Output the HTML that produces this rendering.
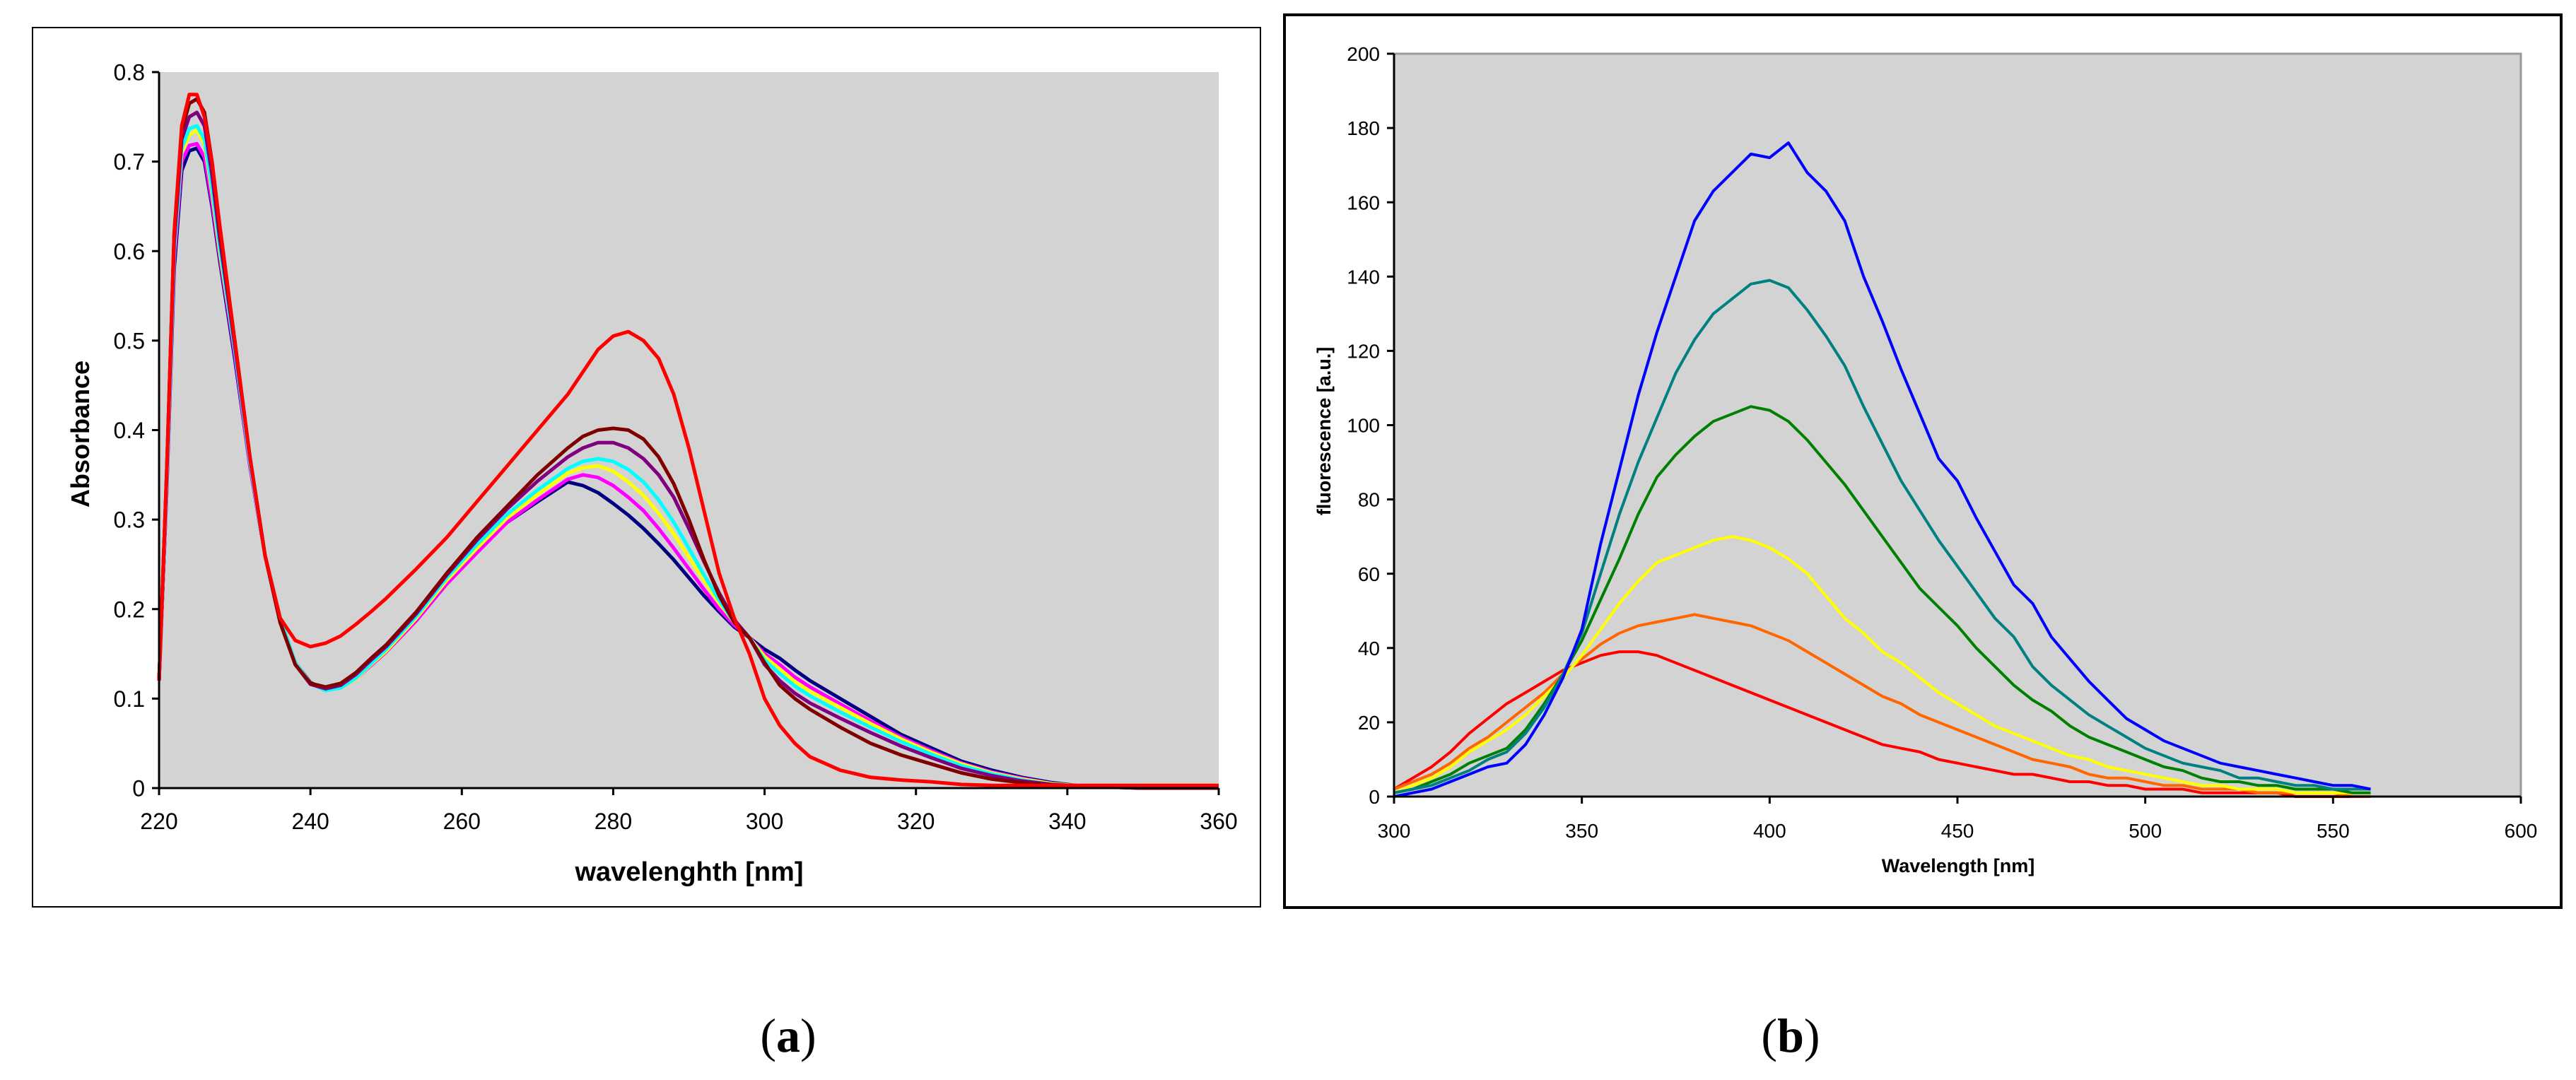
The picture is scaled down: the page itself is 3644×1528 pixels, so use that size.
<!DOCTYPE html>
<html><head><meta charset="utf-8"><style>
html,body{margin:0;padding:0;background:#fff;}
svg{display:block;font-family:"Liberation Sans",Arial,sans-serif;}
</style></head><body>
<svg id="svg" width="3644" height="1528" viewBox="0 0 3644 1528" xmlns="http://www.w3.org/2000/svg">
<rect x="46" y="39" width="1737" height="1244" fill="#fff" stroke="#000" stroke-width="2"/>
<rect x="225" y="102" width="1499" height="1013" fill="#d3d3d3"/>
<rect x="1817" y="21" width="1806" height="1263" fill="#fff" stroke="#000" stroke-width="4"/>
<rect x="1972" y="76" width="1594" height="1051" fill="#d3d3d3" stroke="#999" stroke-width="3"/>
<g id="ga"></g>
<g id="gb"></g>
<text x="268" y="1172" font-size="36" font-weight="bold" text-anchor="middle" transform="rotate(-90 0 0)"></text>
<text x="975" y="1246" font-size="38" font-weight="bold" text-anchor="middle">wavelenghth [nm]</text>
<text transform="translate(126,614) rotate(-90)" font-size="36" font-weight="bold" text-anchor="middle">Absorbance</text>
<text x="2770" y="1234" font-size="27" font-weight="bold" text-anchor="middle">Wavelength [nm]</text>
<text transform="translate(1882,610) rotate(-90)" font-size="27" font-weight="bold" text-anchor="middle">fluorescence [a.u.]</text>
<text x="1115" y="1488" font-size="68" font-family="Liberation Serif,serif" text-anchor="middle">(<tspan font-weight="bold">a</tspan>)</text>
<text x="2533" y="1488" font-size="68" font-family="Liberation Serif,serif" text-anchor="middle">(<tspan font-weight="bold">b</tspan>)</text>
</svg>
<script>
const aX=[220,221,222,223,224,225,226,227,228,230,232,234,236,238,240,242,244,246,248,250,254,258,262,266,270,274,276,278,280,282,284,286,288,290,292,294,296,298,300,302,304,306,310,314,318,322,326,330,334,338,342,350,360];
const aNavy=[0.12,0.33,0.58,0.69,0.712,0.715,0.70,0.65,0.59,0.48,0.36,0.26,0.19,0.14,0.118,0.11,0.113,0.125,0.14,0.155,0.19,0.23,0.265,0.297,0.32,0.342,0.338,0.33,0.318,0.305,0.29,0.273,0.255,0.235,0.215,0.197,0.18,0.168,0.155,0.145,0.132,0.12,0.10,0.08,0.06,0.045,0.03,0.02,0.012,0.006,0.002,0,0];
const aMagenta=[0.12,0.33,0.59,0.70,0.718,0.72,0.705,0.655,0.595,0.485,0.36,0.26,0.19,0.14,0.117,0.11,0.112,0.122,0.137,0.152,0.187,0.228,0.263,0.297,0.322,0.345,0.35,0.347,0.338,0.325,0.31,0.29,0.268,0.245,0.222,0.2,0.182,0.168,0.15,0.138,0.124,0.113,0.094,0.075,0.057,0.042,0.028,0.018,0.011,0.005,0.002,0,0];
const aYellow=[0.12,0.34,0.60,0.71,0.73,0.735,0.72,0.665,0.60,0.49,0.365,0.26,0.19,0.14,0.117,0.109,0.112,0.122,0.138,0.153,0.19,0.232,0.268,0.302,0.328,0.352,0.358,0.36,0.354,0.342,0.327,0.307,0.284,0.258,0.232,0.207,0.185,0.168,0.147,0.133,0.119,0.108,0.09,0.072,0.055,0.04,0.027,0.017,0.01,0.005,0.002,0,0];
const aCyan=[0.12,0.34,0.60,0.715,0.737,0.74,0.725,0.67,0.605,0.49,0.365,0.26,0.19,0.14,0.117,0.109,0.112,0.123,0.139,0.155,0.192,0.235,0.272,0.306,0.333,0.357,0.365,0.368,0.365,0.356,0.342,0.322,0.297,0.268,0.238,0.21,0.185,0.168,0.143,0.128,0.114,0.103,0.085,0.068,0.052,0.038,0.025,0.016,0.009,0.004,0.002,0,0];
const aPurple=[0.12,0.35,0.61,0.725,0.75,0.755,0.74,0.685,0.615,0.495,0.37,0.26,0.185,0.138,0.116,0.111,0.115,0.127,0.143,0.158,0.195,0.238,0.277,0.312,0.343,0.37,0.38,0.386,0.386,0.38,0.368,0.35,0.325,0.29,0.253,0.218,0.188,0.168,0.138,0.12,0.106,0.095,0.078,0.062,0.047,0.034,0.022,0.014,0.008,0.004,0.002,0,0];
const aDarkred=[0.12,0.35,0.62,0.735,0.765,0.77,0.755,0.70,0.625,0.50,0.37,0.26,0.185,0.138,0.117,0.113,0.117,0.129,0.145,0.16,0.197,0.24,0.28,0.315,0.35,0.38,0.393,0.4,0.402,0.4,0.39,0.37,0.34,0.30,0.255,0.215,0.185,0.168,0.14,0.115,0.10,0.088,0.068,0.05,0.037,0.027,0.017,0.01,0.006,0.003,0.002,0,0];
const aRed=[0.12,0.35,0.62,0.74,0.775,0.775,0.75,0.70,0.63,0.50,0.37,0.26,0.19,0.165,0.158,0.162,0.17,0.183,0.197,0.212,0.245,0.28,0.32,0.36,0.40,0.44,0.465,0.49,0.505,0.51,0.5,0.48,0.44,0.38,0.31,0.24,0.19,0.15,0.1,0.07,0.05,0.035,0.02,0.012,0.009,0.007,0.004,0.003,0.003,0.003,0.003,0.003,0.003];
const aXTicks=["220","240","260","280","300","320","340","360"];
const aYTicks=["0","0.1","0.2","0.3","0.4","0.5","0.6","0.7","0.8"];

const bX=[300,305,310,315,320,325,330,335,340,345,350,355,360,365,370,375,380,385,390,395,400,405,410,415,420,425,430,435,440,445,450,455,460,465,470,475,480,485,490,495,500,505,510,515,520,525,530,535,540,545,550,555,560];
const bBlue=[0,1,2,4,6,8,9,14,22,32,45,68,88,108,125,140,155,163,168,173,172,176,168,163,155,140,128,115,103,91,85,75,66,57,52,43,37,31,26,21,18,15,13,11,9,8,7,6,5,4,3,3,2];
const bTeal=[1,2,3,5,7,10,12,17,24,33,44,60,76,90,102,114,123,130,134,138,139,137,131,124,116,105,95,85,77,69,62,55,48,43,35,30,26,22,19,16,13,11,9,8,7,5,5,4,3,3,2,2,2];
const bGreen=[1,2,4,6,9,11,13,18,25,33,42,53,64,76,86,92,97,101,103,105,104,101,96,90,84,77,70,63,56,51,46,40,35,30,26,23,19,16,14,12,10,8,7,5,4,4,3,3,2,2,2,1,1];
const bYellow=[1,3,5,8,12,15,18,22,27,32,38,45,52,58,63,65,67,69,70,69,67,64,60,54,48,44,39,36,32,28,25,22,19,17,15,13,11,10,8,7,6,5,4,3,3,2,2,2,1,1,1,1,1];
const bOrange=[2,4,6,9,13,16,20,24,28,33,37,41,44,46,47,48,49,48,47,46,44,42,39,36,33,30,27,25,22,20,18,16,14,12,10,9,8,6,5,5,4,3,3,2,2,2,1,1,1,1,1,0,0];
const bRed=[2,5,8,12,17,21,25,28,31,34,36,38,39,39,38,36,34,32,30,28,26,24,22,20,18,16,14,13,12,10,9,8,7,6,6,5,4,4,3,3,2,2,2,1,1,1,1,1,0,0,0,0,0];
const bXTicks=["300","350","400","450","500","550","600"];
const bYTicks=["0","20","40","60","80","100","120","140","160","180","200"];

const NS="http://www.w3.org/2000/svg";
function mk(tag,attrs,parent){const e=document.createElementNS(NS,tag);for(const k in attrs)e.setAttribute(k,attrs[k]);parent.appendChild(e);return e;}
const ga=document.getElementById('ga'), gb=document.getElementById('gb');
// chart a axes
const axL=225,axR=1724,ayT=102,ayB=1115;
const ax=v=>axL+(v-220)/(360-220)*(axR-axL);
const ay=v=>ayB-v/0.8*(ayB-ayT);
// chart b axes
const bxL=1972,bxR=3566,byT=76,byB=1127;
const bx=v=>bxL+(v-300)/(600-300)*(bxR-bxL);
const by=v=>byB-v/200*(byB-byT);

function line(g,xs,ys,fx,fy,color,w,name){
  const p=mk('polyline',{points:xs.map((x,i)=>fx(x).toFixed(1)+','+fy(ys[i]).toFixed(1)).join(' '),fill:'none',stroke:color,'stroke-width':w,'stroke-linejoin':'round'},g);
  
  
}
line(ga,aX,aNavy,ax,ay,'#000080',5,'series-navy');
line(ga,aX,aMagenta,ax,ay,'#ff00ff',5,'series-magenta');
line(ga,aX,aYellow,ax,ay,'#ffff00',5,'series-yellow');
line(ga,aX,aCyan,ax,ay,'#00ffff',5,'series-cyan');
line(ga,aX,aPurple,ax,ay,'#800080',5,'series-purple');
line(ga,aX,aDarkred,ax,ay,'#800000',5,'series-dark-red');
line(ga,aX,aRed,ax,ay,'#ff0000',5,'series-red');

line(gb,bX,bRed,bx,by,'#ff0000',4,'series-red-b');
line(gb,bX,bOrange,bx,by,'#ff6600',4,'series-orange');
line(gb,bX,bYellow,bx,by,'#ffff00',4,'series-yellow-b');
line(gb,bX,bGreen,bx,by,'#008000',4,'series-green');
line(gb,bX,bTeal,bx,by,'#008080',4,'series-teal');
line(gb,bX,bBlue,bx,by,'#0000ff',4,'series-blue');

function axes(g,L,R,T,B,xt,yt,fx,fy,fs,pre){
  const a1=mk('line',{x1:L,y1:T,x2:L,y2:B,stroke:'#000','stroke-width':3},g);
  
  
  const a2=mk('line',{x1:L,y1:B,x2:R,y2:B,stroke:'#000','stroke-width':3},g);
  
  
  xt.forEach(t=>{const x=fx(+t);
    mk('line',{x1:x,y1:B,x2:x,y2:B+10,stroke:'#000','stroke-width':3},g);
    const tx=mk('text',{x:x,y:B+58,'font-size':fs,'text-anchor':'middle'},g);tx.textContent=t;
    
    });
  yt.forEach(t=>{const y=fy(+t);
    mk('line',{x1:L-10,y1:y,x2:L,y2:y,stroke:'#000','stroke-width':3},g);
    const tx=mk('text',{x:L-20,y:y+fs*0.36,'font-size':fs,'text-anchor':'end'},g);tx.textContent=t;
    
    });
}
axes(ga,axL,axR,ayT,ayB,aXTicks,aYTicks,ax,ay,32,'a-');
axes(gb,bxL,bxR,byT,byB,bXTicks,bYTicks,bx,by,28,'b-');
</script>
</body></html>
